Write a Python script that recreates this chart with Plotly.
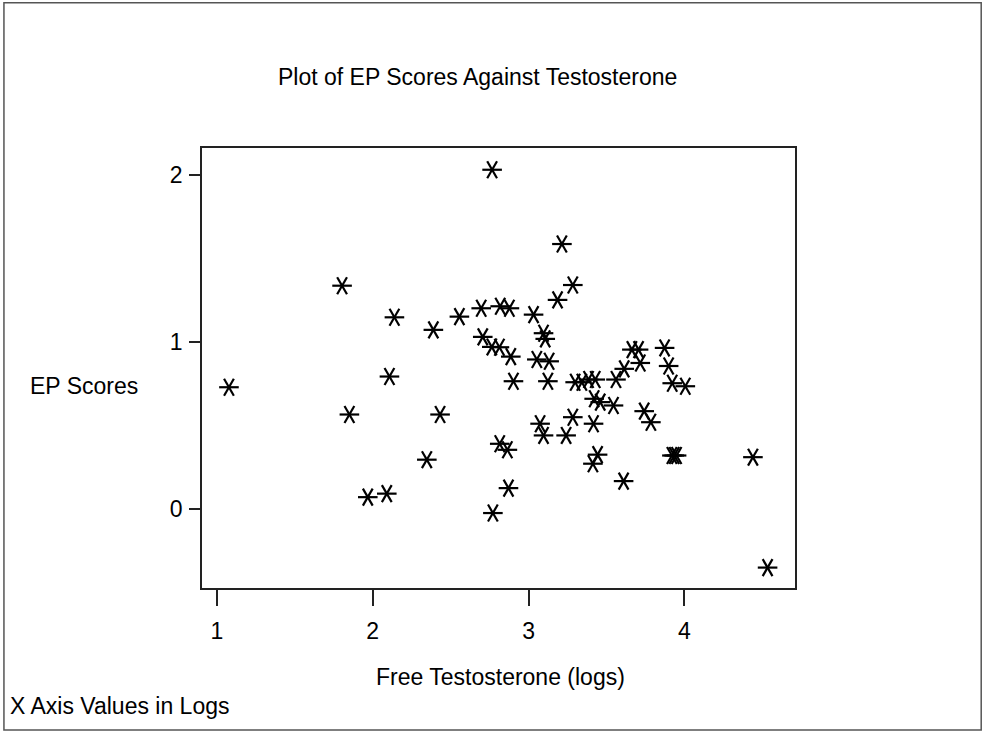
import plotly.graph_objects as go

# Free testosterone (log scale values) and EP scores per subject
free_testosterone_log = [
    1.077, 1.803, 1.850, 1.968, 2.090, 2.107, 2.139, 2.347, 2.389, 2.432,
    2.556, 2.696, 2.706, 2.766, 2.764, 2.771, 2.813, 2.818, 2.815, 2.864,
    2.871, 2.877, 2.886, 2.903, 3.032, 3.053, 3.074, 3.096, 3.096, 3.107,
    3.124, 3.132, 3.186, 3.214, 3.241, 3.284, 3.284, 3.299, 3.342, 3.385,
    3.428, 3.413, 3.417, 3.421, 3.443, 3.460, 3.545, 3.561, 3.610, 3.614,
    3.663, 3.706, 3.717, 3.742, 3.785, 3.873, 3.899, 3.922, 3.920, 3.935,
    3.950, 4.006, 4.440, 4.534,
]
ep_scores = [
    0.730, 1.337, 0.567, 0.073, 0.094, 0.794, 1.148, 0.297, 1.073, 0.567,
    1.152, 1.202, 1.031, 2.030, 0.971, -0.022, 0.969, 1.214, 0.392, 0.356,
    0.127, 1.202, 0.913, 0.766, 1.164, 0.896, 0.512, 1.053, 0.442, 1.019,
    0.766, 0.885, 1.252, 1.586, 0.442, 1.341, 0.551, 0.760, 0.760, 0.776,
    0.776, 0.273, 0.512, 0.661, 0.327, 0.641, 0.621, 0.776, 0.169, 0.840,
    0.955, 0.955, 0.875, 0.587, 0.521, 0.965, 0.857, 0.754, 0.322, 0.322,
    0.322, 0.736, 0.312, -0.348,
]

x_ticks = [1, 2, 3, 4]
y_ticks = [0, 1, 2]

FONT = "Liberation Sans, Arial, sans-serif"

fig = go.Figure()

# Six-armed asterisk marker: three short bars rotated 0, 60 and 120 degrees
for ang in [0, 60, 120]:
    fig.add_trace(go.Scatter(
        x=free_testosterone_log, y=ep_scores, mode="markers",
        marker=dict(symbol="line-ew-open", size=14, angle=ang, color="black",
                    line=dict(color="black", width=2.2)),
        showlegend=False, hoverinfo="x+y",
    ))

axis_common = dict(
    showgrid=False, zeroline=False, showline=True, mirror=True,
    linecolor="#222", linewidth=1.5, ticks="outside",
    tickwidth=1.5, tickcolor="#222",
    tickfont=dict(family=FONT, size=23, color="black"),
)

fig.update_xaxes(range=[0.904, 4.71], tickvals=x_ticks, ticklen=16,
                 ticklabelstandoff=6, **axis_common)
fig.update_yaxes(range=[-0.47, 2.16], tickvals=y_ticks, ticklen=11,
                 ticklabelstandoff=2, **axis_common)

fig.update_layout(
    width=984, height=733,
    margin=dict(l=202, r=189, t=148, b=145),
    paper_bgcolor="white", plot_bgcolor="white",
    font=dict(family=FONT, color="black"),
    shapes=[dict(
        type="rect", xref="paper", yref="paper",
        x0=-0.334, x1=1.314, y0=-0.323, y1=1.330,
        line=dict(color="#555", width=1.5),
    )],
    annotations=[
        dict(text="Plot of EP Scores Against Testosterone", xref="paper", yref="paper",
             x=(477 - 202) / 593, y=(588 - 77) / 440, showarrow=False,
             xanchor="center", yanchor="middle",
             font=dict(family=FONT, size=23)),
        dict(text="EP Scores", xref="paper", yref="paper",
             x=(28 - 202) / 593, y=(588 - 386) / 440, showarrow=False,
             xanchor="left", yanchor="middle",
             font=dict(family=FONT, size=23)),
        dict(text="Free Testosterone (logs)", xref="paper", yref="paper",
             x=(500 - 202) / 593, y=(588 - 677) / 440, showarrow=False,
             xanchor="center", yanchor="middle",
             font=dict(family=FONT, size=23)),
        dict(text="X Axis Values in Logs", xref="paper", yref="paper",
             x=(8 - 202) / 593, y=(588 - 706) / 440, showarrow=False,
             xanchor="left", yanchor="middle",
             font=dict(family=FONT, size=23)),
    ],
)

fig.write_html("out.html")
